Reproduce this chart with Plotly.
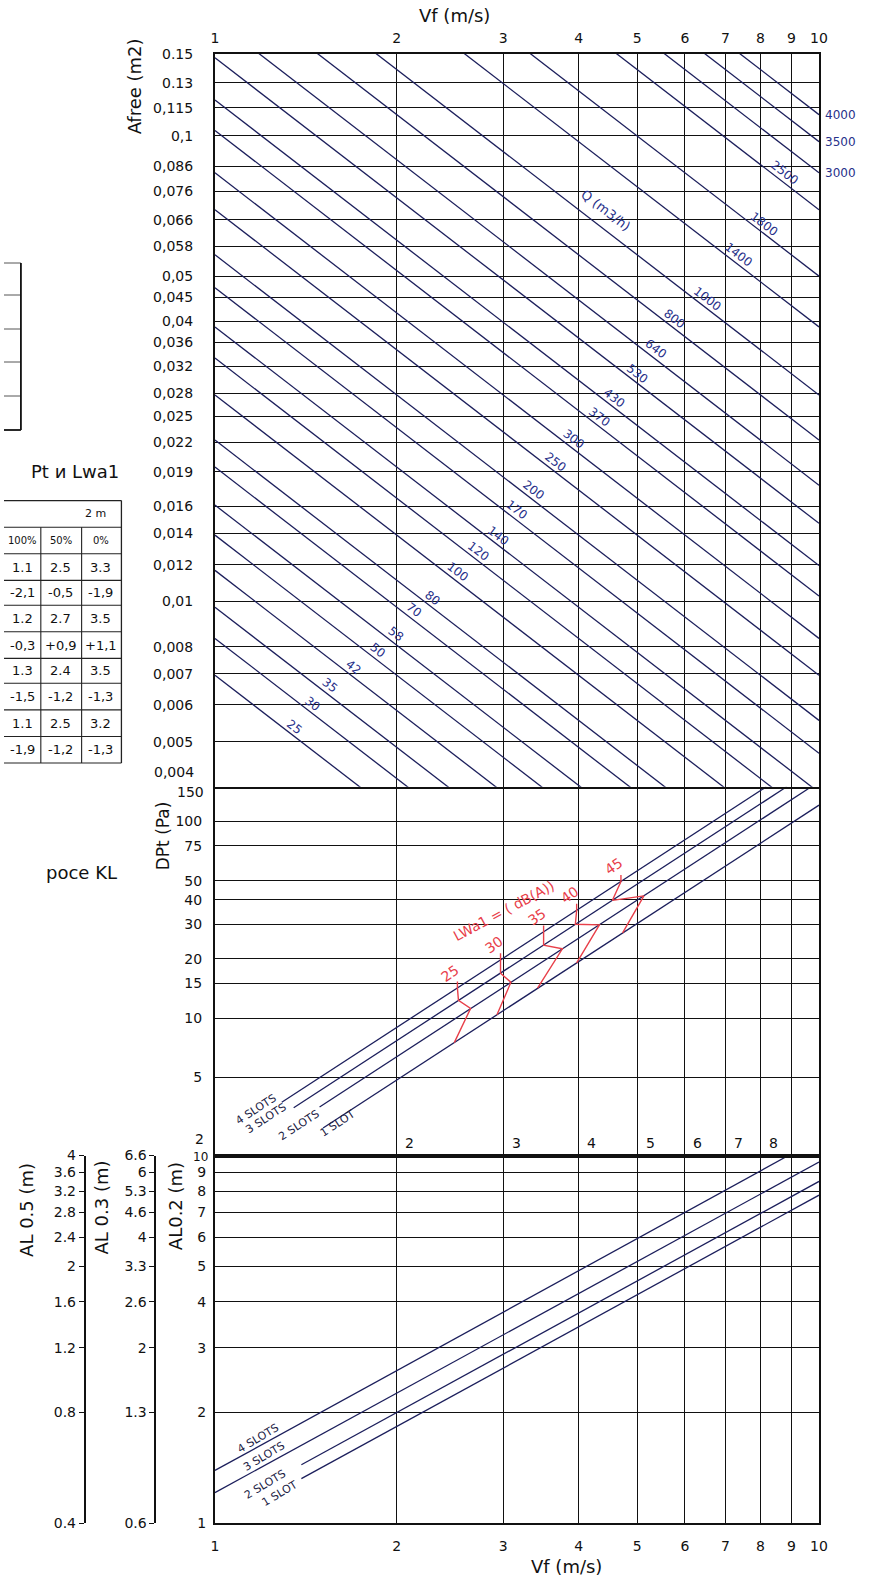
import numpy as np
import plotly.graph_objects as go

# ------------------------------------------------------------------ data
vf_ticks = [1, 2, 3, 4, 5, 6, 7, 8, 9, 10]

afree_ticks = [0.15, 0.13, 0.115, 0.1, 0.086, 0.076, 0.066, 0.058, 0.05, 0.045,
               0.04, 0.036, 0.032, 0.028, 0.025, 0.022, 0.019, 0.016, 0.014,
               0.012, 0.01, 0.008, 0.007, 0.006, 0.005, 0.004]
afree_ticktext = ["0.15", "0.13", "0,115", "0,1", "0,086", "0,076", "0,066",
                  "0,058", "0,05", "0,045", "0,04", "0,036", "0,032", "0,028",
                  "0,025", "0,022", "0,019", "0,016", "0,014", "0,012", "0,01",
                  "0,008", "0,007", "0,006", "0,005", "0,004"]

dpt_ticks = [150, 100, 75, 50, 40, 30, 20, 15, 10, 5, 2]
al02_ticks = [10, 9, 8, 7, 6, 5, 4, 3, 2, 1]
al05_ticktext = ["4", "3.6", "3.2", "2.8", "2.4", "2", "1.6", "1.2", "0.8", "0.4"]
al03_ticktext = ["6.6", "6", "5.3", "4.6", "4", "3.3", "2.6", "2", "1.3", "0.6"]

# constant air-flow lines Q (m3/h):  Q = 3600 * Afree * Vf
q_values = [25, 30, 35, 42, 50, 58, 70, 80, 100, 120, 140, 170, 200, 250, 300,
            370, 430, 530, 640, 800, 1000, 1400, 1800, 2500, 3000, 3500, 4000]
q_label_vf = [1.354, 1.452, 1.547, 1.694, 1.856, 1.991, 2.135, 2.291, 2.525,
              2.727, 2.948, 3.16, 3.366, 3.66, 3.925, 4.33, 4.58, 5.01, 5.37,
              5.77, 6.54, 7.37, 8.11, 8.78, None, None, None]

slot_names = ["4 SLOTS", "3 SLOTS", "2 SLOTS", "1 SLOT"]
# pressure drop lines (start / end points)
dpt_vf0 = [1.29, 1.35, 1.49, 1.51]
dpt_val0 = [3.73, 3.5, 3.53, 2.76]
dpt_vf1 = [8.18, 8.84, 9.71, 10.0]
dpt_val1 = [150, 150, 150, 121]
# throw lines AL0.2
al_vf0 = [1.0, 1.0, 1.39, 1.39]
al_val0 = [1.39, 1.21, 1.44, 1.32]
al_vf1 = [8.9, 10.0, 10.0, 10.0]
al_val1 = [10.0, 9.6, 8.5, 7.8]

# sound power zig-zags (points on 4,3,2,1 slot lines)
lwa_levels = [25, 30, 35, 40, 45]
lwa_vf = [[2.52, 2.53, 2.65, 2.49],
          [2.97, 2.97, 3.09, 2.93],
          [3.50, 3.50, 3.76, 3.42],
          [3.97, 3.95, 4.33, 3.97],
          [4.70, 4.55, 5.13, 4.73]]
lwa_dpt = [[14.2, 12.3, 11.2, 7.5],
           [19.8, 16.9, 15.2, 10.4],
           [27.4, 23.5, 22.5, 14.2],
           [35.3, 30.0, 29.8, 19.1],
           [49.5, 39.7, 41.8, 27.1]]

# cropped table on the left
table_header = "2 m"
table_cols = ["100%", "50%", "0%"]
table_rows = [["1.1", "2.5", "3.3"], ["-2,1", "-0,5", "-1,9"],
              ["1.2", "2.7", "3.5"], ["-0,3", "+0,9", "+1,1"],
              ["1.3", "2.4", "3.5"], ["-1,5", "-1,2", "-1,3"],
              ["1.1", "2.5", "3.2"], ["-1,9", "-1,2", "-1,3"]]

# ------------------------------------------------------------------ layout helpers
W, H = 881, 1579
PL, PR = 212, 819          # pixel x of the chart frame
PT, PB = 54, 1523          # pixel y of the chart frame
S1, S2 = 786.8, 1155.5     # panel boundaries
ML, MR, MT, MB = 0, W - PR, PT, H - PB
AW, AH = W - ML - MR, H - MT - MB


def px_x(px):
    return (px - ML) / AW


def px_y(py):
    return (PB - py) / AH


NAVY = "#1c1f5c"
NAVY_T = "#27308a"
RED = "#e8404a"
BLK = "#111111"
FONT = "DejaVu Sans, Liberation Sans, Arial"

fig = go.Figure()

# top panel: Q lines
for q in q_values:
    fig.add_trace(go.Scatter(x=[1, 10], y=[q / 3600.0, q / 36000.0],
                             xaxis="x3", yaxis="y3", mode="lines",
                             line=dict(color=NAVY, width=1.3), hoverinfo="skip"))
# middle panel: DPt lines
for i in range(4):
    fig.add_trace(go.Scatter(x=[dpt_vf0[i], dpt_vf1[i]], y=[dpt_val0[i], dpt_val1[i]],
                             xaxis="x2", yaxis="y2", mode="lines",
                             line=dict(color=NAVY, width=1.3), hoverinfo="skip"))
# red zig-zags
for lv, vfs, dps in zip(lwa_levels, lwa_vf, lwa_dpt):
    fig.add_trace(go.Scatter(x=[vfs[0]] + vfs, y=[dps[0] * 1.08] + dps,
                             xaxis="x2", yaxis="y2", mode="lines",
                             line=dict(color=RED, width=1.4), hoverinfo="skip"))
# bottom panel: throw lines
for i in range(4):
    fig.add_trace(go.Scatter(x=[al_vf0[i], al_vf1[i]], y=[al_val0[i], al_val1[i]],
                             xaxis="x", yaxis="y", mode="lines",
                             line=dict(color=NAVY, width=1.3), hoverinfo="skip"))
# dummy traces so the extra AL axes are drawn
for ya in ["y4", "y5"]:
    fig.add_trace(go.Scatter(x=[1], y=[1], xaxis="x", yaxis=ya, mode="markers",
                             marker=dict(opacity=0), hoverinfo="skip"))

xdom = [px_x(PL), 1]
grid = dict(showgrid=True, gridcolor=BLK, gridwidth=1.4, showline=True,
            linecolor=BLK, linewidth=2, ticks="", zeroline=False)

xcommon = dict(type="log", range=[0, 1], tickmode="array", tickvals=vf_ticks,
               ticktext=[str(v) for v in vf_ticks], domain=xdom, **grid)

fig.update_layout(
    width=W, height=H, margin=dict(l=ML, r=MR, t=MT, b=MB),
    paper_bgcolor="white", plot_bgcolor="white", showlegend=False,
    font=dict(family=FONT, color=BLK, size=14),
    xaxis=dict(anchor="y", tickfont=dict(size=14), ticklabelstandoff=9,
               mirror=True, **xcommon),
    xaxis2=dict(anchor="y2", showticklabels=False, mirror=False, **xcommon),
    xaxis3=dict(anchor="y3", side="top", tickfont=dict(size=14), ticklabelstandoff=3,
                mirror=True, **xcommon),
    yaxis=dict(type="log", range=[0, 1], domain=[0, px_y(S2)], anchor="x",
               tickmode="array", tickvals=al02_ticks,
               ticktext=["" if v == 10 else str(v) for v in al02_ticks],
               tickfont=dict(size=14), ticklabelstandoff=4, mirror=True, **grid),
    yaxis2=dict(type="log", range=[np.log10(2), np.log10(150)],
                domain=[px_y(S2), px_y(S1)], anchor="x2", tickmode="array",
                tickvals=dpt_ticks,
                ticktext=["" if v in (150, 2) else str(v) for v in dpt_ticks],
                tickfont=dict(size=14), ticklabelstandoff=8, mirror=True, **grid),
    yaxis3=dict(type="log", range=[np.log10(0.004), np.log10(0.15)],
                domain=[px_y(S1), 1], anchor="x3", tickmode="array",
                tickvals=afree_ticks,
                ticktext=["" if t == "0,004" else t for t in afree_ticktext],
                tickfont=dict(size=14), ticklabelstandoff=17, mirror=True, **grid),
    yaxis4=dict(type="log", range=[0, 1], overlaying="y", anchor="free",
                position=px_x(81), side="left", tickmode="array",
                tickvals=al02_ticks, ticktext=al05_ticktext, showgrid=False,
                showline=True, linecolor=BLK, linewidth=1.6, ticks="outside",
                ticklen=5, tickwidth=1.3, tickcolor=BLK, tickfont=dict(size=14),
                zeroline=False),
    yaxis5=dict(type="log", range=[0, 1], overlaying="y", anchor="free",
                position=px_x(152), side="left", tickmode="array",
                tickvals=al02_ticks, ticktext=al03_ticktext, showgrid=False,
                showline=True, linecolor=BLK, linewidth=1.6, ticks="outside",
                ticklen=5, tickwidth=1.3, tickcolor=BLK, tickfont=dict(size=14),
                zeroline=False),
)

ann = []


def text_px(txt, px, py, size=14, color=BLK, angle=0, xanchor="center",
            yanchor="middle"):
    ann.append(dict(text=txt, x=px_x(px), y=px_y(py), xref="paper", yref="paper",
                    showarrow=False, textangle=angle, xanchor=xanchor,
                    yanchor=yanchor, font=dict(size=size, color=color)))


# axis titles
text_px("Vf (m/s)", 453, 16, size=18)
text_px("Vf (m/s)", 565, 1566, size=18)
text_px("Afree (m2)", 132, 86, size=18, angle=-90)
text_px("DPt (Pa)", 160, 836, size=17, angle=-90)
text_px("AL0.2 (m)", 172, 1206, size=18, angle=-90)
text_px("AL 0.3 (m)", 97, 1208, size=18, angle=-90)
text_px("AL 0.5 (m)", 22, 1210, size=18, angle=-90)

# boundary tick labels
text_px("0,004", 193, 772, size=14, xanchor="right")
text_px("150", 203, 792, size=14, xanchor="right")
text_px("2", 203, 1139, size=14, xanchor="right")
text_px("10", 207, 1157, size=12, xanchor="right")

# x labels inside the middle panel
for v in vf_ticks[1:8]:
    ann.append(dict(text=str(v), x=np.log10(v), y=px_y(1143), xref="x2", yref="paper",
                    showarrow=False, xshift=13, yanchor="middle",
                    font=dict(size=14, color=BLK)))

# Q labels
for q, vfl in zip(q_values, q_label_vf):
    if vfl is None:
        ann.append(dict(text=str(q), x=px_x(823), y=np.log10(q / 36000.0),
                        xref="paper", yref="y3", showarrow=False, xanchor="left",
                        yanchor="middle", font=dict(size=12, color=NAVY_T)))
    else:
        ann.append(dict(text=str(q), x=np.log10(vfl), y=np.log10(q / (3600.0 * vfl)),
                        xref="x3", yref="y3", showarrow=False, textangle=37.5,
                        yshift=10, font=dict(size=12, color=NAVY_T)))
text_px("Q (m3/h)", 605, 210, size=13, color=NAVY_T, angle=37.5)

# LWa labels
for lv, vfs, dps in zip(lwa_levels, lwa_vf, lwa_dpt):
    ann.append(dict(text=str(lv), x=np.log10(vfs[0]), y=np.log10(dps[0]),
                    xref="x2", yref="y2", showarrow=False, textangle=-35,
                    xshift=-7, yshift=15, font=dict(size=14, color=RED)))
text_px("LWa1 = ( dB(A))", 502, 911, size=14, color=RED, angle=-28)

# slot labels
for name, (cx, cy) in zip(slot_names, [(253, 1109), (263, 1118), (296, 1125), (335, 1123)]):
    text_px(name, cx, cy, size=11, color="#222244", angle=-33)
for name, (cx, cy) in zip(slot_names, [(255, 1438), (261, 1456), (262, 1484), (277, 1493)]):
    text_px(name, cx, cy, size=11, color="#222244", angle=-31)

# left cropped text/table
text_px("Pt и Lwa1", 118, 472, size=18, xanchor="right")
text_px("росе KL", 116, 872, size=18, xanchor="right")

shapes = []


def seg(x0, y0, x1, y1, w=1.2, c="#333333"):
    shapes.append(dict(type="line", xref="paper", yref="paper",
                       x0=px_x(x0), y0=px_y(y0), x1=px_x(x1), y1=px_y(y1),
                       line=dict(color=c, width=w)))


# top cropped table
for yy in [263, 295, 329, 362, 396]:
    seg(0, yy, 17, yy, 1.0, "#555555")
seg(0, 430, 17, 430, 1.8, BLK)
seg(17, 263, 17, 430, 1.8, BLK)

# second cropped table
rows_y = [500.6, 527.2, 553.8, 580.4, 605.2, 631.8, 658.4, 683.3, 709.9, 736.5, 763.0]
for yy in rows_y:
    seg(0, yy, 118, yy, 1.1, "#222222")
seg(118, rows_y[0], 118, rows_y[-1], 1.3, "#222222")
for xx in [37, 78]:
    seg(xx, rows_y[1], xx, rows_y[-1], 1.1, "#222222")
text_px(table_header, 92, (rows_y[0] + rows_y[1]) / 2, size=11)
col_x = [19, 57, 97]
for cx, c in zip(col_x, table_cols):
    text_px(c, cx, (rows_y[1] + rows_y[2]) / 2, size=10)
for r, row in enumerate(table_rows):
    ymid = (rows_y[r + 2] + rows_y[r + 3]) / 2
    for cx, c in zip(col_x, row):
        text_px(c, cx, ymid, size=13)

# thick separation between DPt and AL panels
seg(PL, S2, PR, S2, 3.2, BLK)

fig.update_layout(annotations=ann, shapes=shapes)

fig.write_html("out.html", config={"displayModeBar": False},
               post_script="document.body.style.margin='0';")
